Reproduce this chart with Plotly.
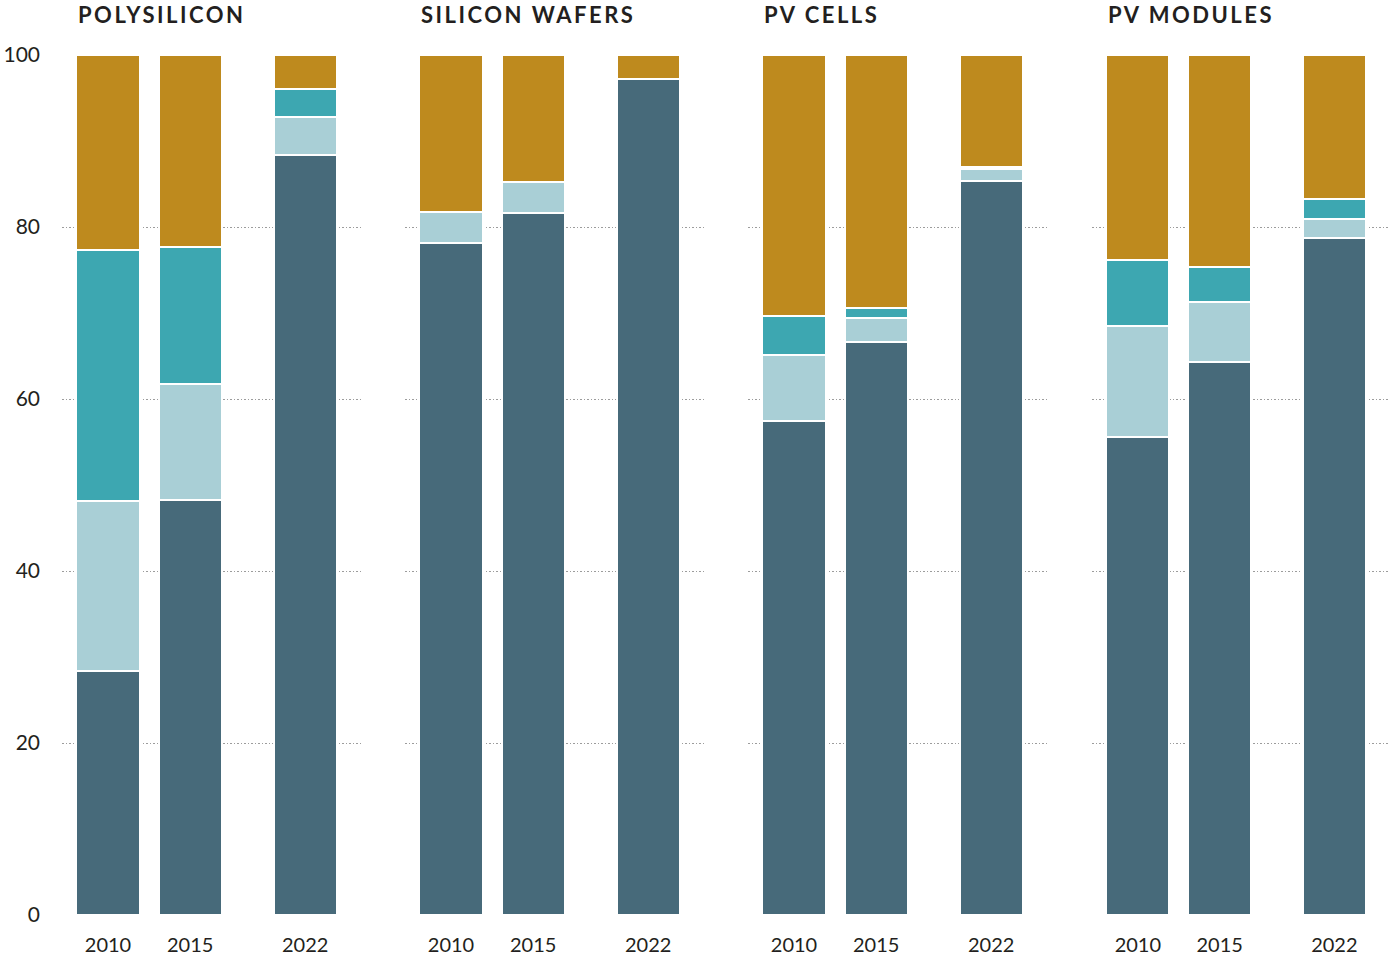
import plotly.graph_objects as go

years = [2010, 2015, 2022]
panels = ["POLYSILICON", "SILICON WAFERS", "PV CELLS", "PV MODULES"]
series_names = ["Segment 1", "Segment 2", "Segment 3", "Segment 4"]
colors = ["#476a7a", "#a9cfd6", "#3da7b1", "#be8a1e"]

# values per panel: [dark, light, teal, gold] for 2010, 2015, 2022
poly_dark = [28.4, 48.3, 88.4]
poly_light = [19.7, 13.4, 4.4]
poly_teal = [29.2, 16.0, 3.3]
poly_gold = [22.7, 22.3, 3.9]

wafer_dark = [78.1, 81.6, 97.2]
wafer_light = [3.6, 3.6, 0.0]
wafer_teal = [0.0, 0.0, 0.0]
wafer_gold = [18.3, 14.8, 2.8]

cell_dark = [57.5, 66.6, 85.4]
cell_light = [7.6, 2.8, 1.4]
cell_teal = [4.6, 1.2, 0.2]
cell_gold = [30.3, 29.4, 13.0]

module_dark = [55.6, 64.3, 78.7]
module_light = [12.9, 7.0, 2.2]
module_teal = [7.7, 4.0, 2.4]
module_gold = [23.8, 24.7, 16.7]

y_ticks = [0, 20, 40, 60, 80, 100]

data = [
    [poly_dark, poly_light, poly_teal, poly_gold],
    [wafer_dark, wafer_light, wafer_teal, wafer_gold],
    [cell_dark, cell_light, cell_teal, cell_gold],
    [module_dark, module_light, module_teal, module_gold],
]

W, H = 1390, 957
ml, mr, mt, mb = 62, 0, 55, 42
plot_w = W - ml - mr
panel_px = [(0, 299), (343, 642), (686, 985), (1030, 1328)]
domains = [[a / plot_w, min(b / plot_w, 1.0)] for a, b in panel_px]

bar_w = 3.85
xr = [2007.2, 2025.4]
font_family = "Lato"
txt_color = "#231f20"

fig = go.Figure()
for p, stacks in enumerate(data):
    xa = "x" if p == 0 else f"x{p+1}"
    ya = "y" if p == 0 else f"y{p+1}"
    for s, vals in enumerate(stacks):
        fig.add_trace(go.Bar(
            x=years, y=vals, name=series_names[s], width=bar_w,
            marker=dict(color=colors[s], line=dict(color="white", width=2)),
            xaxis=xa, yaxis=ya, showlegend=False,
        ))
    fig.add_annotation(
        text=f'<span style="letter-spacing:2.5px">{panels[p]}</span>',
        xref=xa, yref="paper", x=years[0] - bar_w / 2, y=1 + 41 / (H - mt - mb),
        xanchor="left", yanchor="middle", showarrow=False,
        font=dict(family=font_family, size=22, color=txt_color, weight="bold"),
    )

layout = dict(
    width=W, height=H, barmode="stack", bargap=0,
    plot_bgcolor="white", paper_bgcolor="white",
    margin=dict(l=ml, r=mr, t=mt, b=mb),
    font=dict(family=font_family, size=20, color=txt_color),
)
for p in range(4):
    sx = "" if p == 0 else str(p + 1)
    layout[f"xaxis{sx}"] = dict(
        domain=domains[p], range=xr, tickvals=years, ticktext=[str(y) for y in years],
        showgrid=False, zeroline=False, showline=False, ticks="",
        ticklabelstandoff=16, anchor=f"y{sx}",
        tickfont=dict(family=font_family, size=20, color=txt_color),
    )
    layout[f"yaxis{sx}"] = dict(
        range=[0, 100], tickvals=y_ticks, showgrid=True, gridcolor="#9c9c9c",
        griddash="1.5px,2px", gridwidth=1, zeroline=False, showline=False, ticks="",
        showticklabels=(p == 0), ticklabelstandoff=21, anchor=f"x{sx}",
        tickfont=dict(family=font_family, size=21, color=txt_color),
    )
fig.update_layout(**layout)
fig.write_html("out.html", config={"displayModeBar": False},
               post_script="document.body.style.margin='0';")
